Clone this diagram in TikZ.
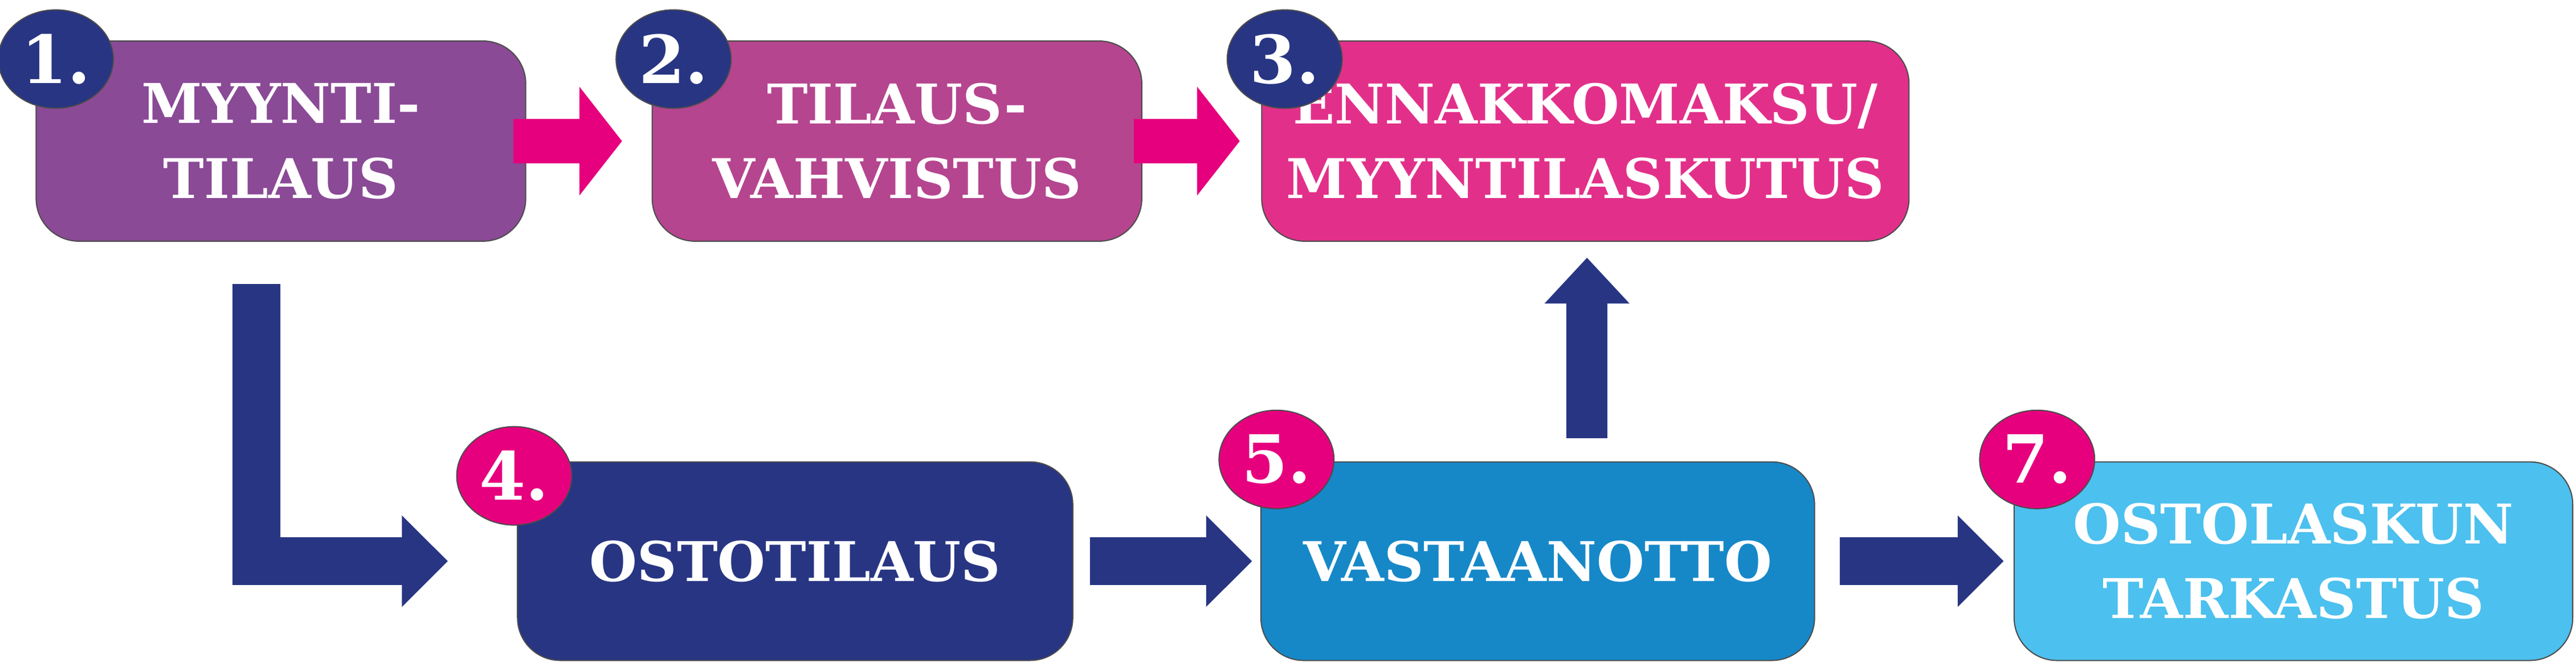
\documentclass[tikz,border=0pt]{standalone}
\usepackage{fontspec}
\setmainfont{DejaVu Serif}
\usetikzlibrary{arrows.meta,shapes.geometric,calc}
\definecolor{c1}{HTML}{8A4A96}
\definecolor{c2}{HTML}{B5458F}
\definecolor{c3}{HTML}{E2308A}
\definecolor{navy}{HTML}{283583}
\definecolor{c5}{HTML}{1688C8}
\definecolor{c7}{HTML}{4CC0EE}
\definecolor{pink}{HTML}{E6007E}
\tikzset{
  stepbox/.style={draw=black!70, line width=0.2pt, rounded corners=2.6mm, text=white,
    font=\fontsize{9.5}{13}\selectfont\bfseries, align=center, inner sep=0pt},
  badge/.style={ellipse, draw=black!70, line width=0.2pt, minimum width=7mm, minimum height=6mm,
    inner sep=0pt, text=white, font=\fontsize{11.5}{12}\selectfont\bfseries},
  pinkarrow/.style={draw=pink, line width=2.7mm,
    -{Triangle[length=2.6mm,width=6.5mm]}},
  navyarrow/.style={navy, line width=2.9mm, line join=miter,
    -{Triangle[length=2.8mm,width=5.4mm]}}
}
\begin{document}
\begin{tikzpicture}[x=0.1mm,y=-0.1mm]
	\useasboundingbox (0,0) rectangle (1568,404);
	% step boxes
	\node[stepbox, fill=c1, minimum width=29.8mm, minimum height=12.2mm] (n1) at (171,86) {MYYNTI-\\TILAUS};
	\node[stepbox, fill=c2, minimum width=29.8mm, minimum height=12.2mm] (n2) at (546,86) {TILAUS-\\VAHVISTUS};
	\node[stepbox, fill=c3, minimum width=39.4mm, minimum height=12.2mm] (n3) at (965,86) {ENNAKKOMAKSU/\\MYYNTILASKUTUS};
	\node[stepbox, fill=navy, minimum width=33.8mm, minimum height=12.1mm] (n4) at (484,342) {OSTOTILAUS};
	\node[stepbox, fill=c5, minimum width=33.7mm, minimum height=12.1mm] (n5) at (936,342) {VASTAANOTTO};
	\node[stepbox, fill=c7, minimum width=34mm, minimum height=12.1mm] (n7) at (1396,342) {OSTOLASKUN\\TARKASTUS};
	% badges
	\node[badge, fill=navy] (b1) at (34,36) {1.};
	\node[badge, fill=navy] (b2) at (410,36) {2.};
	\node[badge, fill=navy] (b3) at (782,36) {3.};
	\node[badge, fill=pink] (b4) at (313,290) {4.};
	\node[badge, fill=pink] (b5) at (777,280) {5.};
	\node[badge, fill=pink] (b7) at (1240,280) {7.};
	% arrows
	\draw[pinkarrow, shorten <=-0.8mm, shorten >=1.8mm] (n1.east) -- (n2.west);
	\draw[pinkarrow, shorten <=-0.5mm, shorten >=1.3mm] (n2.east) -- (n3.west);
	\coordinate (lstart) at (156,173);
	\draw[navyarrow, shorten >=4.2mm] (lstart) |- (n4.west);
	\draw[navyarrow, shorten <=1mm, shorten >=0.5mm] (n4.east) -- (n5.west);
	\draw[navyarrow, shorten <=1.5mm, shorten >=0.6mm] (n5.east) -- (n7.west);
	\coordinate (upstart) at (966,267);
	\coordinate (upend) at (966,157);
	\draw[navyarrow, line width=2.5mm, -{Triangle[length=2.8mm,width=5mm]}] (upstart) -- (upend);
\end{tikzpicture}
\end{document}
